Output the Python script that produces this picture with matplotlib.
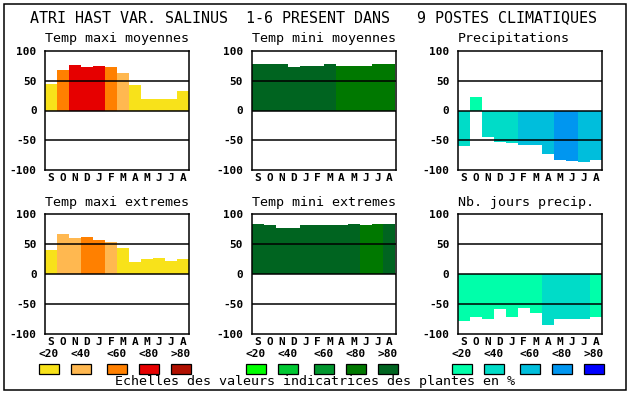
import matplotlib
matplotlib.use("Agg")
import matplotlib.pyplot as plt
from matplotlib.patches import Rectangle

# figure size in pixels
W, H = 630, 394

months = ["S", "O", "N", "D", "J", "F", "M", "A", "M", "J", "J", "A"]
scale_labels = ["<20", "<40", "<60", "<80", ">80"]

# palettes (one per row of legend)
pal_tmax = ["#f8e21a", "#ffb850", "#ff8000", "#e60000", "#b01000"]
pal_tmin = ["#00ff00", "#00c832", "#00962d", "#007800", "#006420"]
pal_prec = ["#00ffaa", "#00dcc8", "#00bedc", "#0096f0", "#0000ff"]

# values, with the class (0-4) of each bar
tmax_moy = [44, 67, 76, 72, 74, 72, 62, 42, 20, 20, 20, 32]
tmax_moy_cls = [0, 2, 3, 3, 3, 2, 1, 0, 0, 0, 0, 0]

tmin_moy = [77, 77, 77, 72, 75, 75, 77, 75, 75, 75, 77, 77]
tmin_moy_cls = [4, 4, 4, 4, 4, 4, 4, 3, 3, 3, 3, 3]

precip = [-60, 22, -45, -52, -55, -57, -57, -72, -83, -84, -86, -82]
precip_cls = [1, 0, 1, 1, 1, 2, 2, 2, 3, 3, 2, 2]

tmax_ext = [40, 67, 60, 62, 57, 54, 44, 20, 25, 27, 22, 25]
tmax_ext_cls = [0, 1, 1, 2, 2, 1, 0, 0, 0, 0, 0, 0]

tmin_ext = [84, 81, 77, 77, 82, 82, 82, 82, 84, 82, 84, 84]
tmin_ext_cls = [4, 4, 4, 4, 4, 4, 4, 4, 4, 3, 3, 4]

nb_jours = [-78, -71, -74, -58, -72, -56, -64, -84, -74, -74, -75, -71]
nb_jours_cls = [0, 0, 0, 0, 0, 0, 0, 1, 1, 1, 1, 0]

panels = [
    ("Temp maxi moyennes", tmax_moy, tmax_moy_cls, pal_tmax, 0, 0),
    ("Temp mini moyennes", tmin_moy, tmin_moy_cls, pal_tmin, 1, 0),
    ("Precipitations", precip, precip_cls, pal_prec, 2, 0),
    ("Temp maxi extremes", tmax_ext, tmax_ext_cls, pal_tmax, 0, 1),
    ("Temp mini extremes", tmin_ext, tmin_ext_cls, pal_tmin, 1, 1),
    ("Nb. jours precip.", nb_jours, nb_jours_cls, pal_prec, 2, 1),
]

col_x = [45, 251.5, 457.7]
row_y = [(50.7, 170.3), (214, 334.3)]
ax_w = 144

mono = "DejaVu Sans Mono"


def fx(px):
    return px / W


def fy(py):
    return 1 - py / H


fig = plt.figure(figsize=(W / 100, H / 100), dpi=100)
fig.patch.set_facecolor("white")

# outer frame
fig.add_artist(Rectangle((fx(4), fy(390)), 622 / W, 386 / H, transform=fig.transFigure,
                         fill=False, edgecolor="black", linewidth=1.1))

fig.text(fx(314), fy(18), "ATRI HAST VAR. SALINUS  1-6 PRESENT DANS   9 POSTES CLIMATIQUES",
         ha="center", va="center", family=mono, fontsize=10.8)

for title, vals, cls, pal, c, r in panels:
    x0 = col_x[c]
    y0, y1 = row_y[r]
    ax = fig.add_axes([fx(x0), fy(y1), ax_w / W, (y1 - y0) / H])
    ax.bar(range(12), vals, width=1.0, color=[pal[k] for k in cls], linewidth=0, zorder=1)
    for yl in [50, 0, -50]:
        ax.axhline(yl, color="black", linewidth=1.1, zorder=2)
    ax.set_xlim(-0.5, 11.5)
    ax.set_ylim(-100, 100)
    ax.set_yticks([100, 50, 0, -50, -100])
    ax.set_yticklabels(["100", "50", "0", "-50", "-100"], family=mono, fontweight="bold", fontsize=8)
    ax.set_xticks(range(12))
    ax.set_xticklabels(months, family=mono, fontweight="bold", fontsize=8)
    ax.tick_params(length=0, pad=2)
    ax.tick_params(axis="y", pad=6)
    for s in ax.spines.values():
        s.set_linewidth(1.1)
    ax.set_title(title, loc="left", family=mono, fontsize=9.6, pad=6)

# legends under the bottom row
leg_off = [-6, 26, 62, 94, 126]
for c, pal in enumerate([pal_tmax, pal_tmin, pal_prec]):
    for k in range(5):
        bx = col_x[c] + leg_off[k]
        fig.text(fx(bx + 10), fy(354), scale_labels[k], ha="center", va="center",
                 family=mono, fontweight="bold", fontsize=8)
        fig.add_artist(Rectangle((fx(bx), fy(373.5)), 20 / W, 9.5 / H, transform=fig.transFigure,
                                 facecolor=pal[k], edgecolor="black", linewidth=0.9))

fig.text(fx(315), fy(382), "Echelles des valeurs indicatrices des plantes en %",
         ha="center", va="center", family=mono, fontsize=9.6)

fig.savefig("out.png", dpi=100)
